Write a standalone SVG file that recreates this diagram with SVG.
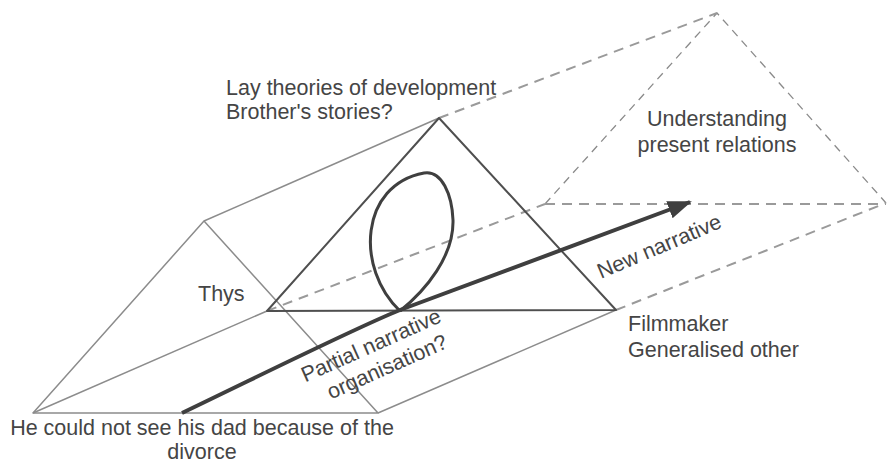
<svg xmlns="http://www.w3.org/2000/svg" width="888" height="464" viewBox="0 0 888 464">
<style>
  .lbl { font-family: "Liberation Sans", Arial, sans-serif; font-size: 21.5px; fill: #454545; }
  .thin { fill: none; stroke: #8c8c8c; stroke-width: 1.5; stroke-linejoin: round; }
  .tri { fill: none; stroke: #4f4f4f; stroke-width: 2; stroke-linejoin: round; }
  .dash { fill: none; stroke: #9a9a9a; stroke-width: 2; stroke-dasharray: 10 7; }
  .dashthin { fill: none; stroke: #8a8a8a; stroke-width: 1.3; stroke-dasharray: 8 6; }
  .loop { fill: none; stroke: #3f3f3f; stroke-width: 3; }
  .arrow { fill: none; stroke: #3f3f3f; stroke-width: 4; }
</style>
<defs>
  <marker id="head" markerUnits="userSpaceOnUse" markerWidth="24" markerHeight="22" viewBox="0 0 24 22" refX="22" refY="11" orient="auto">
    <path d="M0,2 L24,11 L0,20 Z" fill="#3f3f3f"/>
  </marker>
</defs>
<rect width="888" height="464" fill="#ffffff"/>

<g id="connectors">
  <!-- dashed future prism -->
  <path class="dashthin" d="M545,204 L717,13 L886,203"/>
  <path class="dash" d="M439,118 L717,13"/>
  <path class="dash" d="M267,311 L545,204"/>
  <path class="dash" d="M545,204 L886,204"/>
  <path class="dash" d="M616,310 L886,203"/>
  <!-- left prism (thin grey) -->
  <path class="thin" d="M33,413 L204,221 L378,413 Z"/>
  <path class="thin" d="M204,221 L439,118"/>
  <path class="thin" d="M33,413 L267,311"/>
  <path class="thin" d="M378,413 L616,310"/>
  <!-- middle triangle -->
  <path class="tri" d="M267,311 L439,118 L616,310 Z"/>
  <!-- loop -->
  <path class="loop" d="M400,311 C 355,268 360,185 424,173 C 442,170 452,195 453,220 C 454,256 426,290 400,311"/>
  <!-- narrative arrow -->
  <path class="arrow" d="M182,413 C 300,356 360,326 400,310 C 480,280 600,236 690,202" marker-end="url(#head)"/>
</g>

<g id="node-lay-theories">
  <text class="lbl" x="226" y="95">Lay theories of development</text>
  <text class="lbl" x="226" y="119">Brother's stories?</text>
</g>
<g id="node-understanding">
  <text class="lbl" x="717" y="126" text-anchor="middle">Understanding</text>
  <text class="lbl" x="717" y="152" text-anchor="middle">present relations</text>
</g>
<g id="node-thys">
  <text class="lbl" x="198" y="301">Thys</text>
</g>
<g id="node-filmmaker">
  <text class="lbl" x="628" y="331">Filmmaker</text>
  <text class="lbl" x="628" y="357">Generalised other</text>
</g>
<g id="node-divorce">
  <text class="lbl" x="202" y="435" text-anchor="middle">He could not see his dad because of the</text>
  <text class="lbl" x="202" y="459" text-anchor="middle">divorce</text>
</g>
<g id="label-partial">
  <g transform="translate(374,352) rotate(-24)">
    <text class="lbl" x="0" y="0" text-anchor="middle">Partial narrative</text>
    <text class="lbl" x="6" y="26" text-anchor="middle">organisation?</text>
  </g>
</g>
<g id="label-new">
  <text class="lbl" transform="translate(601,279) rotate(-23)" x="0" y="0">New narrative</text>
</g>
</svg>
